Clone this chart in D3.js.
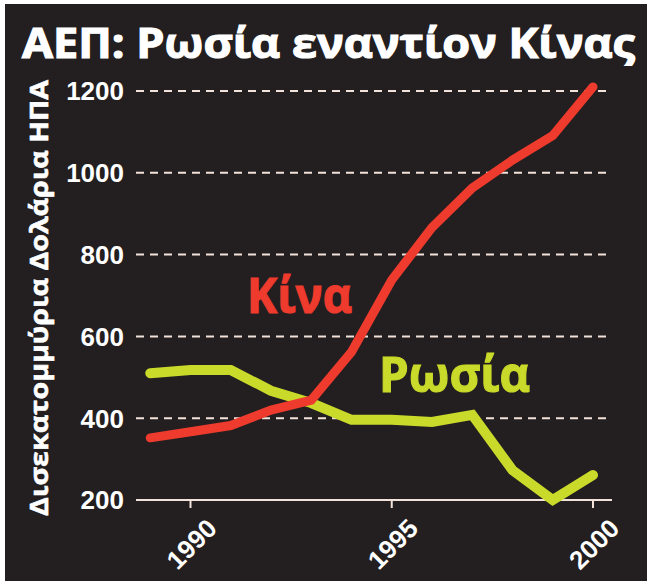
<!DOCTYPE html>
<html>
<head>
<meta charset="utf-8">
<script src="https://cdn.jsdelivr.net/npm/d3@7"></script>
<style>
    body { margin: 0; background: #ffffff; }
    svg { display: block; }
</style>
</head>
<body>
<div id="chart"></div>
<script>
// data
let years = [1989, 1990, 1991, 1992, 1993, 1994, 1995, 1996, 1997, 1998, 1999, 2000];
let china = [352, 367, 382, 420, 444, 562, 738, 866, 963, 1031, 1091, 1210];
let russia = [510, 518, 518, 467, 437, 396, 396, 391, 408, 273, 200, 261];
let yTicks = [200, 400, 600, 800, 1000, 1200];
let xTicks = [1990, 1995, 2000];

let width = 647, height = 581;
let bg = "#231f20", red = "#ee3b2d", green = "#c9da2a", gridColor = "#f2e2da";

let svg = d3.select("#chart").append("svg")
    .attr("width", width)
    .attr("height", height);

// dark panel with thin white edge on top/left
svg.append("rect")
    .attr("x", 5).attr("y", 4)
    .attr("width", width - 5).attr("height", height - 4)
    .attr("fill", bg);

let x = d3.scaleLinear().domain([1990, 2000]).range([190.5, 593]);
let y = d3.scaleLinear().domain([200, 1200]).range([500, 91]);

// title
svg.append("text")
    .attr("x", 22).attr("y", 58)
    .attr("textLength", 613)
    .attr("lengthAdjust", "spacingAndGlyphs")
    .style("font-family", "'Open Sans', sans-serif")
    .style("font-weight", "bold")
    .style("font-size", "41px")
    .attr("fill", "#ffffff")
    .attr("stroke", "#ffffff")
    .attr("stroke-width", 1.2)
    .text("ΑΕΠ: Ρωσία εναντίον Κίνας");

// grid lines
svg.append("g")
    .selectAll("line")
    .data(yTicks.filter(d => d > 200))
    .enter().append("line")
    .attr("x1", 136).attr("x2", 612)
    .attr("y1", d => y(d)).attr("y2", d => y(d))
    .attr("stroke", gridColor)
    .attr("stroke-width", 2)
    .attr("stroke-dasharray", "8,6");

// base axis line
svg.append("line")
    .attr("x1", 136).attr("x2", 612)
    .attr("y1", y(200)).attr("y2", y(200))
    .attr("stroke", gridColor)
    .attr("stroke-width", 2);

// x ticks
svg.append("g")
    .selectAll("line")
    .data(xTicks)
    .enter().append("line")
    .attr("x1", d => x(d)).attr("x2", d => x(d))
    .attr("y1", y(200)).attr("y2", y(200) + 8)
    .attr("stroke", gridColor)
    .attr("stroke-width", 2);

svg.append("g")
    .selectAll("text")
    .data(xTicks)
    .enter().append("text")
    .attr("transform", d => `translate(${x(d) + 28}, ${y(200) + 30}) rotate(-45)`)
    .attr("text-anchor", "end")
    .style("font-family", "'Liberation Sans', Arial, sans-serif")
    .style("font-weight", "bold")
    .style("font-size", "26px")
    .attr("fill", "#ffffff")
    .text(d => d);

// y tick labels
svg.append("g")
    .selectAll("text")
    .data(yTicks)
    .enter().append("text")
    .attr("x", 124)
    .attr("y", d => y(d))
    .attr("dy", "0.36em")
    .attr("text-anchor", "end")
    .style("font-family", "'Liberation Sans', Arial, sans-serif")
    .style("font-weight", "bold")
    .style("font-size", "26px")
    .attr("fill", "#ffffff")
    .text(d => d);

// y axis title
svg.append("text")
    .attr("transform", "translate(48, 298) rotate(-90)")
    .attr("text-anchor", "middle")
    .attr("textLength", 436)
    .attr("lengthAdjust", "spacingAndGlyphs")
    .style("font-family", "'Open Sans', sans-serif")
    .style("font-weight", "bold")
    .style("font-size", "25px")
    .attr("fill", "#ffffff")
    .attr("stroke", "#ffffff")
    .attr("stroke-width", 0.6)
    .text("Δισεκατομμύρια Δολάρια ΗΠΑ");

// lines
let line = d3.line()
    .x((d, i) => x(years[i]))
    .y(d => y(d));

svg.append("path")
    .datum(russia)
    .attr("d", line)
    .attr("fill", "none")
    .attr("stroke", green)
    .attr("stroke-width", 10)
    .attr("stroke-linecap", "round")
    .attr("stroke-linejoin", "miter");

svg.append("path")
    .datum(china)
    .attr("d", line)
    .attr("fill", "none")
    .attr("stroke", red)
    .attr("stroke-width", 9)
    .attr("stroke-linecap", "round")
    .attr("stroke-linejoin", "miter");

// series labels
svg.append("text")
    .attr("x", 247).attr("y", 313)
    .attr("textLength", 105)
    .attr("lengthAdjust", "spacingAndGlyphs")
    .style("font-family", "'Open Sans', sans-serif")
    .style("font-weight", "bold")
    .style("font-size", "49px")
    .attr("fill", red)
    .attr("stroke", red)
    .attr("stroke-width", 1.2)
    .text("Κίνα");

svg.append("text")
    .attr("x", 379).attr("y", 392)
    .attr("textLength", 151)
    .attr("lengthAdjust", "spacingAndGlyphs")
    .style("font-family", "'Open Sans', sans-serif")
    .style("font-weight", "bold")
    .style("font-size", "49px")
    .attr("fill", green)
    .attr("stroke", green)
    .attr("stroke-width", 1.2)
    .text("Ρωσία");
</script>
</body>
</html>
